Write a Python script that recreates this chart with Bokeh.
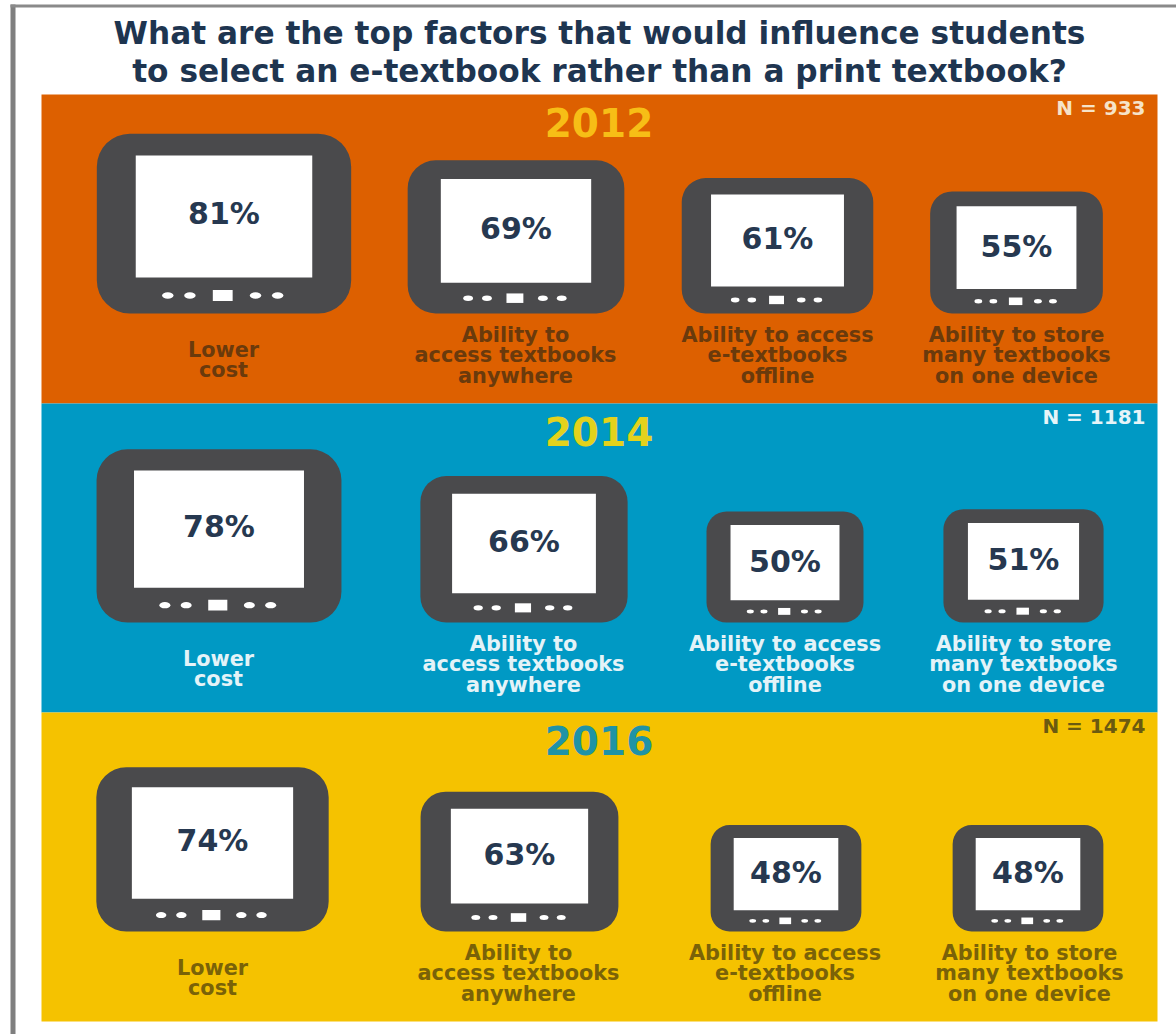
from bokeh.embed import file_html
from bokeh.resources import INLINE
from bokeh.plotting import figure
from bokeh.models import Range1d
from bokeh.core.properties import value

# Survey results by year
years = ["2012", "2014", "2016"]
sample_sizes = ["N = 933", "N = 1181", "N = 1474"]
shares = [
    [81, 69, 61, 55],
    [78, 66, 50, 51],
    [74, 63, 48, 48],
]
factors = [
    ["Lower", "cost"],
    ["Ability to", "access textbooks", "anywhere"],
    ["Ability to access", "e-textbooks", "offline"],
    ["Ability to store", "many textbooks", "on one device"],
]
title_lines = [
    "What are the top factors that would influence students",
    "to select an e-textbook rather than a print textbook?",
]

# Panel layout, in canvas pixels
panel_tops = [94, 403, 712]
panel_height = 309
panel_left, panel_right = 41, 1157
panel_fill = ["#DD6000", "#0099C4", "#F5C200"]
year_color = ["#F7BE16", "#E3D21C", "#1F93A6"]
note_color = ["#F6E3C8", "#E6F4F8", "#6B5A10"]
label_color = ["#6A3A0C", "#E4F3F8", "#7A6208"]
tablet_centers = [
    [223.5, 515.5, 777, 1016],
    [218.5, 523.5, 784.5, 1023],
    [212, 519, 785.5, 1027.5],
]
label_centers = [
    [223, 515, 777, 1016],
    [218, 523, 784.5, 1023],
    [212, 518, 784.5, 1029],
]
tablet_baseline = 219       # tablet bottom, below the panel top
three_line_offsets = [240, 260.5, 281]
two_line_offsets = [255, 275]
width_per_point = 3.14
height_per_point = 2.22

SANS = value("DejaVu Sans")

p = figure(width=1176, height=1034, output_backend="svg", toolbar_location=None,
           x_range=Range1d(0, 1176), y_range=Range1d(1034, 0), min_border=0)
p.axis.visible = False
p.grid.visible = False
p.outline_line_color = None
p.background_fill_color = "white"
p.border_fill_color = "white"

# Page frame on the left and top edges
p.quad(left=[10], right=[15], top=[4], bottom=[1034], fill_color="#7F7F7F", line_color=None)
p.quad(left=[10], right=[1176], top=[4], bottom=[7], fill_color="#8A8A8A", line_color=None)

for i, line in enumerate(title_lines):
    p.text([599], [32 + i * 38], text=[line], text_align="center", text_baseline="middle",
           text_font=SANS, text_font_size="31.2px", text_font_style="bold", text_color="#1E3550")

for row, year in enumerate(years):
    top = panel_tops[row]
    p.quad(left=[panel_left], right=[panel_right], top=[top], bottom=[top + panel_height],
           fill_color=panel_fill[row], line_color=None)
    p.text([598.5], [top + 28], text=[year], text_align="center", text_baseline="middle",
           text_font=SANS, text_font_size="39px", text_font_style="bold", text_color=year_color[row])
    p.text([1145], [top + 13], text=[sample_sizes[row]], text_align="right", text_baseline="middle",
           text_font=SANS, text_font_size="20px", text_font_style="bold", text_color=note_color[row])

    for col, share in enumerate(shares[row]):
        w = share * width_per_point
        h = share * height_per_point
        cx = tablet_centers[row][col]
        y1 = top + tablet_baseline
        y0 = y1 - h
        # Tablet body, sized by the share
        p.quad(left=[cx - w / 2], right=[cx + w / 2], top=[y0], bottom=[y1],
               fill_color="#4A4A4C", line_color=None, border_radius=int(0.13 * w))
        # Screen
        p.quad(left=[cx - 0.347 * w], right=[cx + 0.347 * w], top=[y0 + 0.122 * h], bottom=[y1 - 0.2 * h],
               fill_color="white", line_color=None)
        # Home button with two dots either side
        by = y1 - 0.1 * h
        bx = cx - 0.005 * w
        p.rect([bx], [by], width=0.078 * w, height=0.062 * h, fill_color="white", line_color=None)
        for off in (-0.216, -0.129, 0.129, 0.216):
            p.ellipse([bx + off * w], [by], width=0.045 * w, height=0.036 * h,
                      fill_color="white", line_color=None)
        p.text([cx], [y0 + 0.439 * h + 1], text=[f"{share}%"], text_align="center", text_baseline="middle",
               text_font=SANS, text_font_size="30px", text_font_style="bold", text_color="#263850")
        # Factor caption
        lines = factors[col]
        offsets = two_line_offsets if len(lines) == 2 else three_line_offsets
        for line, dy in zip(lines, offsets):
            p.text([label_centers[row][col]], [top + dy], text=[line],
                   text_align="center", text_baseline="middle", text_font=SANS,
                   text_font_size="20.8px", text_font_style="bold", text_color=label_color[row])

open("out.html", "w").write(file_html(p, INLINE))
